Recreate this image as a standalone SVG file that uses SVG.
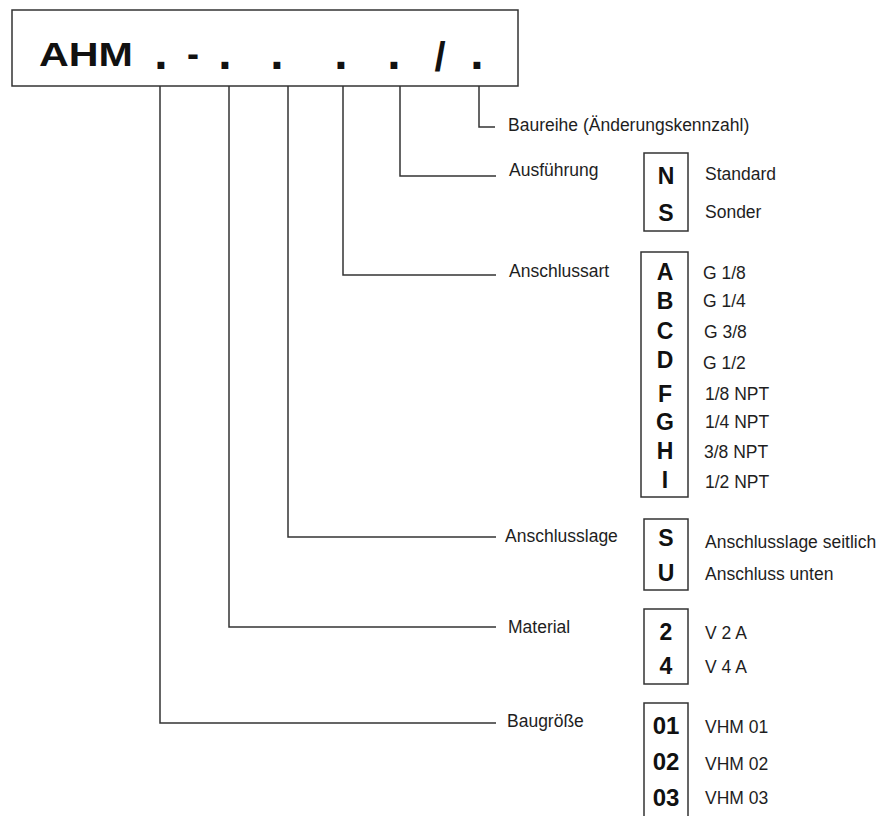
<svg xmlns="http://www.w3.org/2000/svg" width="881" height="816" viewBox="0 0 881 816">
<style>
.frame{fill:#fff;stroke:#333;stroke-width:1.5}
.conn{fill:none;stroke:#333;stroke-width:1.5}
.lbl{font-family:"Liberation Sans",Arial,sans-serif;font-size:17.5px;fill:#1e1e1e}
.val{font-family:"Liberation Sans",Arial,sans-serif;font-size:17.5px;fill:#1e1e1e}
.code{font-family:"Liberation Sans",Arial,sans-serif;font-size:23px;font-weight:bold;fill:#111;text-anchor:middle}
.num{font-family:"Liberation Sans",Arial,sans-serif;font-size:24px;font-weight:bold;fill:#111;text-anchor:middle}
.title{font-family:"Liberation Sans",Arial,sans-serif;font-size:36px;font-weight:bold;fill:#111;text-anchor:middle}
.dot{font-size:48px}
</style>
<rect width="881" height="816" fill="#fff"/>

<g id="title">
<rect class="frame" x="12" y="10" width="506" height="76"/>
<text class="title" x="86" y="66" textLength="94" lengthAdjust="spacingAndGlyphs" style="font-size:34px">AHM</text>
<text class="title dot" x="161" y="69">.</text>
<text class="title" x="193" y="66">-</text>
<text class="title dot" x="225" y="69">.</text>
<text class="title dot" x="277" y="69">.</text>
<text class="title dot" x="341" y="69">.</text>
<text class="title dot" x="394" y="69">.</text>
<text class="title" x="440" y="71" style="font-size:40px">/</text>
<text class="title dot" x="477" y="69">.</text>
</g>

<g id="connectors">
<polyline class="conn" points="479,86 479,127 495,127"/>
<polyline class="conn" points="400,86 400,176 496,176"/>
<polyline class="conn" points="343,86 343,275 496,275"/>
<polyline class="conn" points="288,86 288,537 496,537"/>
<polyline class="conn" points="229,86 229,627 496,627"/>
<polyline class="conn" points="160,86 160,723 496,723"/>
</g>

<g id="baureihe">
<text class="lbl" x="508" y="131">Baureihe (Änderungskennzahl)</text>
</g>

<g id="ausfuehrung">
<text class="lbl" x="509" y="176">Ausführung</text>
<rect class="frame" x="644" y="153" width="44" height="78"/>
<text class="code" x="666" y="184">N</text>
<text class="code" x="666" y="221">S</text>
<text class="val" x="705" y="180">Standard</text>
<text class="val" x="705" y="218">Sonder</text>
</g>

<g id="anschlussart">
<text class="lbl" x="509" y="277">Anschlussart</text>
<rect class="frame" x="641" y="252" width="47" height="245"/>
<text class="code" x="665" y="280">A</text>
<text class="code" x="665" y="309">B</text>
<text class="code" x="665" y="339">C</text>
<text class="code" x="665" y="368">D</text>
<text class="code" x="665" y="402">F</text>
<text class="code" x="665" y="430">G</text>
<text class="code" x="665" y="459">H</text>
<text class="code" x="665" y="488">I</text>
<text class="val" x="703" y="279">G 1/8</text>
<text class="val" x="703" y="307">G 1/4</text>
<text class="val" x="704" y="338">G 3/8</text>
<text class="val" x="703" y="369">G 1/2</text>
<text class="val" x="705" y="400">1/8 NPT</text>
<text class="val" x="705" y="428">1/4 NPT</text>
<text class="val" x="704" y="458">3/8 NPT</text>
<text class="val" x="705" y="488">1/2 NPT</text>
</g>

<g id="anschlusslage">
<text class="lbl" x="505" y="542">Anschlusslage</text>
<rect class="frame" x="644" y="519" width="44" height="71"/>
<text class="code" x="666" y="546">S</text>
<text class="code" x="666" y="580.5">U</text>
<text class="val" x="705" y="548">Anschlusslage seitlich</text>
<text class="val" x="705" y="579.5">Anschluss unten</text>
</g>

<g id="material">
<text class="lbl" x="508" y="633">Material</text>
<rect class="frame" x="644" y="609" width="44" height="75"/>
<text class="code" x="666" y="640">2</text>
<text class="code" x="666" y="674">4</text>
<text class="val" x="705" y="639">V 2 A</text>
<text class="val" x="705" y="673">V 4 A</text>
</g>

<g id="baugroesse">
<text class="lbl" x="507" y="727">Baugröße</text>
<rect class="frame" x="644" y="703" width="44" height="130"/>
<text class="num" x="666" y="733.5">01</text>
<text class="num" x="666" y="769.5">02</text>
<text class="num" x="666" y="806">03</text>
<text class="val" x="705" y="733">VHM 01</text>
<text class="val" x="705" y="770">VHM 02</text>
<text class="val" x="705" y="804">VHM 03</text>
</g>
</svg>
